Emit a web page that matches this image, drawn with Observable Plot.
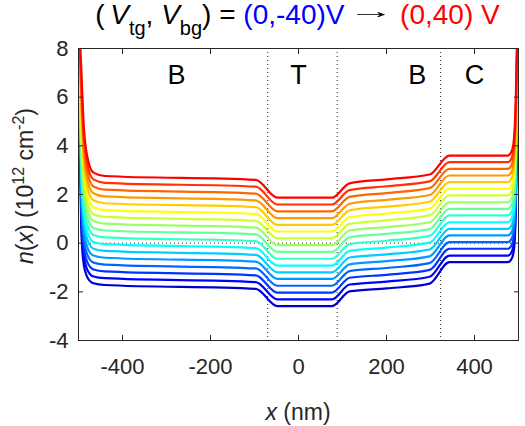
<!DOCTYPE html>
<html>
<head>
<meta charset="utf-8">
<script src="https://cdn.jsdelivr.net/npm/d3@7"></script>
<script src="https://cdn.jsdelivr.net/npm/@observablehq/plot@0.6"></script>
<style>
  body { margin: 0; background: #fff; }
  #chart { width: 525px; font-family: "Liberation Sans", Arial, Helvetica, sans-serif; }
  #title { position: relative; height: 40px; font-size: 28px; line-height: 28px; color: #000; white-space: nowrap; }
  #title .row { position: absolute; left: 70px; right: 0; top: 1px; text-align: center; }
  #title i { font-style: italic; }
  #title sub { font-size: 20px; vertical-align: -11px; line-height: 0; }
  #title .blue { color: #0000ff; }
  #title .red { color: #ff0000; }
  #title .arrow { display: inline-block; line-height: 20px; vertical-align: 6px; transform: scaleX(2.35); margin: 0 11px 0 9px; font-size: 20px; }
</style>
</head>
<body>
<div id="chart">
  <div id="title"><div class="row">(<i>&#8201;V</i><sub>tg</sub>, <i>V</i><sub>bg</sub>) = <span class="blue">(0,-40)V</span> <span class="arrow">&#8594;</span> <span class="red">(0,40) V</span></div></div>
</div>
<script>
// Back-gate voltages of the 17 profiles (top gate held at 0 V)
const vbg = [-40, -35, -30, -25, -20, -15, -10, -5, 0, 5, 10, 15, 20, 25, 30, 35, 40];

// Carrier density n(x) in 1e12 cm^-2 for each profile, at a set of positions x (nm)
const nAtWall   = 12; // density diverges at the sample edges, beyond the top of the axis
const nNearWall = [5.00, 5.23, 5.45, 5.68, 5.90, 6.13, 6.35, 6.58, 6.80, 7.03, 7.25, 7.48, 7.70, 7.93, 8.15, 8.38, 8.60];
const nL494     = [0.80, 1.21, 1.61, 2.02, 2.43, 2.83, 3.24, 3.64, 4.05, 4.46, 4.86, 5.27, 5.68, 6.08, 6.49, 6.89, 7.30];
const nL489     = [-0.75, -0.38, -0.02, 0.35, 0.71, 1.08, 1.44, 1.81, 2.18, 2.54, 2.91, 3.27, 3.64, 4.00, 4.37, 4.73, 5.10];
const nL480     = [-1.40, -1.09, -0.78, -0.47, -0.16, 0.15, 0.46, 0.76, 1.07, 1.38, 1.69, 2.00, 2.31, 2.62, 2.93, 3.24, 3.55];
const nL466     = [-1.65, -1.37, -1.08, -0.80, -0.51, -0.23, 0.05, 0.34, 0.62, 0.91, 1.19, 1.48, 1.76, 2.05, 2.33, 2.62, 2.90];
const nBackL0   = [-1.72, -1.44, -1.16, -0.88, -0.60, -0.32, -0.04, 0.24, 0.52, 0.80, 1.08, 1.36, 1.64, 1.92, 2.20, 2.48, 2.76];
const nBackL1   = [-1.88, -1.60, -1.32, -1.04, -0.76, -0.48, -0.20, 0.08, 0.36, 0.64, 0.92, 1.20, 1.48, 1.76, 2.04, 2.32, 2.60];
const nTopGate  = [-2.59, -2.31, -2.03, -1.75, -1.47, -1.20, -0.92, -0.64, -0.36, -0.08, 0.20, 0.48, 0.75, 1.03, 1.31, 1.59, 1.87];
const nBackR0   = [-1.98, -1.70, -1.42, -1.15, -0.87, -0.59, -0.32, -0.04, 0.24, 0.52, 0.79, 1.07, 1.35, 1.62, 1.90, 2.18, 2.46];
const nBackR1   = [-1.86, -1.58, -1.30, -1.02, -0.74, -0.46, -0.18, 0.10, 0.38, 0.66, 0.94, 1.22, 1.50, 1.78, 2.06, 2.34, 2.62];
const nBackR2   = [-1.66, -1.38, -1.10, -0.82, -0.54, -0.26, 0.02, 0.30, 0.58, 0.86, 1.14, 1.42, 1.70, 1.98, 2.26, 2.54, 2.82];
const nContact  = [-0.78, -0.51, -0.23, 0.04, 0.32, 0.59, 0.86, 1.14, 1.41, 1.68, 1.96, 2.23, 2.51, 2.78, 3.05, 3.33, 3.60];
const nR485     = [-0.62, -0.34, -0.07, 0.21, 0.48, 0.76, 1.04, 1.31, 1.59, 1.87, 2.14, 2.42, 2.69, 2.97, 3.25, 3.52, 3.80];
const nR490     = [-0.20, 0.08, 0.37, 0.65, 0.94, 1.22, 1.51, 1.79, 2.08, 2.36, 2.64, 2.93, 3.21, 3.50, 3.78, 4.07, 4.35];
const nR494     = [1.50, 1.78, 2.06, 2.34, 2.63, 2.91, 3.19, 3.47, 3.75, 4.03, 4.31, 4.59, 4.88, 5.16, 5.44, 5.72, 6.00];

// Positions (nm) where the densities above are given
const profile = [
  [-500, nAtWall], [-497, nNearWall], [-494, nL494], [-489, nL489], [-480, nL480], [-466, nL466],
  [-440, nBackL0], [-97, nBackL1], [-48, nTopGate], [76, nTopGate],
  [116, nBackR0], [200, nBackR1], [298, nBackR2], [343, nContact], [476, nContact],
  [485, nR485], [490, nR490], [494, nR494], [497, nNearWall], [500, nAtWall]
];

// Region boundaries and labels: back-gated (B), top-gated (T), contact (C)
const boundaries = [-70, 88, 323];
const regionNames = ["B", "T", "B", "C"];
const regionX = [-277, 0, 270, 400];
const regionY = 6.9;

const xTicks = [-400, -200, 0, 200, 400];
const yTicks = [-4, -2, 0, 2, 4, 6, 8];

// jet colormap, 17 steps from dark blue to red
const jet = ["#0000cc", "#0000ff", "#0033ff", "#0066ff", "#0099ff", "#00ccff", "#00ffff", "#33ffcc",
             "#66ff99", "#99ff66", "#ccff33", "#ffff00", "#ffcc00", "#ff9900", "#ff6600", "#ff3300", "#ff0000"];

const rows = [];
vbg.forEach((v, i) => {
  for (const [x, col] of profile) rows.push({vbg: v, x, n: typeof col === "number" ? col : col[i]});
});
const regions = regionNames.map((name, i) => ({name, x: regionX[i], y: regionY}));

const ink = "#262626";
const font = "'Liberation Sans', Arial, Helvetica, sans-serif";
const plain = d => `${d}`; // hyphen-minus, as in the original figure

const chart = Plot.plot({
  width: 525,
  height: 386,
  marginTop: 8,
  marginBottom: 86,
  marginLeft: 78,
  marginRight: 7,
  style: {fontFamily: font, fontSize: "22px", color: ink, background: "white", overflow: "visible"},
  x: {domain: [-500, 500], axis: null},
  y: {domain: [-4, 8], axis: null},
  color: {type: "ordinal", domain: vbg, range: jet},
  marks: [
    Plot.ruleY([0], {stroke: ink, strokeWidth: 1, strokeDasharray: "1,3"}),
    Plot.ruleX(boundaries, {x: d => d, stroke: ink, strokeWidth: 1, strokeDasharray: "1,3"}),
    Plot.line(rows, {x: "x", y: "n", z: "vbg", stroke: "vbg", curve: "monotone-x", strokeWidth: 2.2, clip: true}),
    Plot.text(regions, {x: "x", y: "y", text: "name", fontSize: 27, fill: "#000", lineAnchor: "middle"}),
    Plot.frame({stroke: ink, strokeWidth: 1}),
    // inward ticks on all four sides
    Plot.axisX(xTicks, {anchor: "bottom", tickSize: 5, dy: -5, fill: "none", stroke: ink}),
    Plot.axisX(xTicks, {anchor: "top", tickSize: 5, dy: 5, fill: "none", stroke: ink}),
    Plot.axisY(yTicks, {anchor: "left", tickSize: 5, dx: 5, fill: "none", stroke: ink}),
    Plot.axisY(yTicks, {anchor: "right", tickSize: 5, dx: -5, fill: "none", stroke: ink}),
    // tick labels
    Plot.axisX(xTicks, {anchor: "bottom", tickSize: 0, tickPadding: 18, fontSize: 22, fill: ink, label: null, tickFormat: plain}),
    Plot.axisY(yTicks, {anchor: "left", tickSize: 0, tickPadding: 10, fontSize: 22, fill: ink, label: null, tickFormat: plain})
  ]
});

document.getElementById("chart").appendChild(chart);

// Axis titles with italic symbols and superscripts
const svg = d3.select(chart);
const xl = svg.append("text")
  .attr("x", 298).attr("y", 380)
  .attr("text-anchor", "middle")
  .attr("fill", ink)
  .style("font-family", font).style("font-size", "23px");
xl.append("tspan").attr("font-style", "italic").text("x");
xl.append("tspan").text(" (nm)");

const yl = svg.append("text")
  .attr("transform", "translate(33,146) rotate(-90)")
  .attr("text-anchor", "middle")
  .attr("fill", ink)
  .style("font-family", font).style("font-size", "23px");
yl.append("tspan").attr("font-style", "italic").text("n");
yl.append("tspan").text("(");
yl.append("tspan").attr("font-style", "italic").text("x");
yl.append("tspan").text(") (10");
yl.append("tspan").attr("dy", -9).style("font-size", "16px").text("12");
yl.append("tspan").attr("dy", 9).text(" cm");
yl.append("tspan").attr("dy", -9).style("font-size", "16px").text("-2");
yl.append("tspan").attr("dy", 9).text(")");
</script>
</body>
</html>
